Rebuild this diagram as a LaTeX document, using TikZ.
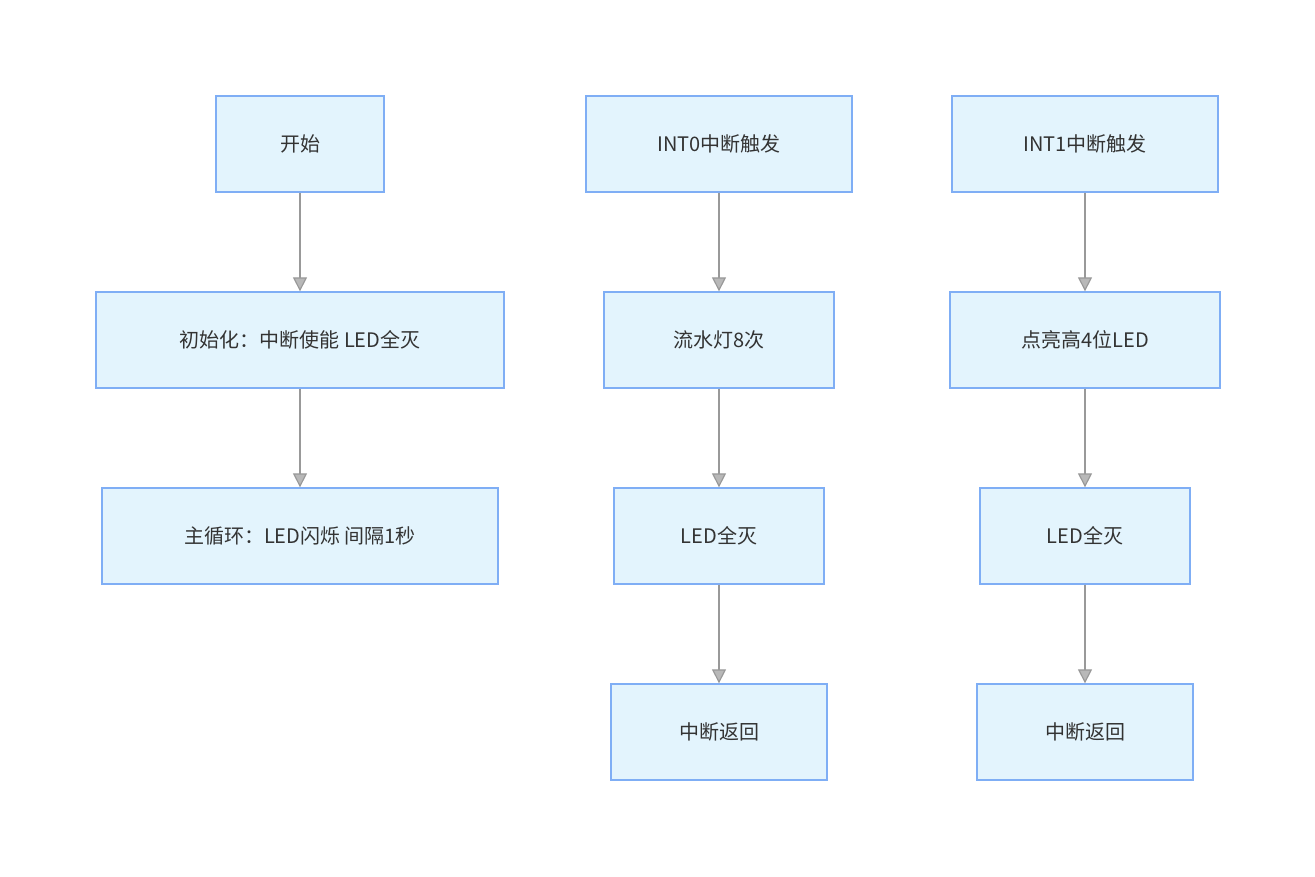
\documentclass[tikz,border=0pt]{standalone}
\usepackage{fontspec}
\setmainfont{Noto Sans CJK SC}
\usetikzlibrary{arrows.meta}
\definecolor{bfill}{HTML}{E3F4FD}
\definecolor{bdraw}{HTML}{7FAEF5}
\definecolor{ar}{HTML}{999999}
\begin{document}
\begin{tikzpicture}[x=1pt,y=-1pt,
 box/.style={draw=bdraw,fill=bfill,line width=1.3pt,minimum height=96pt,inner sep=0pt,text=black!80,font=\fontsize{20}{24}\selectfont},
 arr/.style={draw=ar,line width=1.2pt,-{Triangle[length=14pt,width=14pt,fill=ar!70]}}]
\useasboundingbox (0,0) rectangle (1315,876);
\node[box,minimum width=168pt] (a1) at (300,144) {开始};
\node[box,minimum width=408pt] (a2) at (300,340) {初始化：中断使能 LED全灭};
\node[box,minimum width=396pt] (a3) at (300,536) {主循环：LED闪烁 间隔1秒};
\node[box,minimum width=266pt] (b1) at (719,144) {INT0中断触发};
\node[box,minimum width=230pt] (b2) at (719,340) {流水灯8次};
\node[box,minimum width=210pt] (b3) at (719,536) {LED全灭};
\node[box,minimum width=216pt] (b4) at (719,732) {中断返回};
\node[box,minimum width=266pt] (c1) at (1085,144) {INT1中断触发};
\node[box,minimum width=270pt] (c2) at (1085,340) {点亮高4位LED};
\node[box,minimum width=210pt] (c3) at (1085,536) {LED全灭};
\node[box,minimum width=216pt] (c4) at (1085,732) {中断返回};
\draw[arr] (a1)--(a2); \draw[arr] (a2)--(a3);
\draw[arr] (b1)--(b2); \draw[arr] (b2)--(b3); \draw[arr] (b3)--(b4);
\draw[arr] (c1)--(c2); \draw[arr] (c2)--(c3); \draw[arr] (c3)--(c4);
\end{tikzpicture}
\end{document}
